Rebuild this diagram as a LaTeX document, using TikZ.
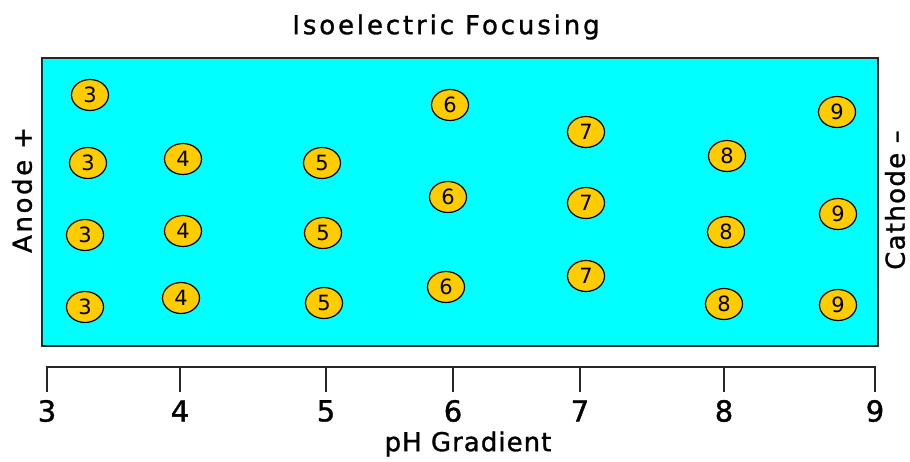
\documentclass[tikz,border=0pt]{standalone}
\usepackage{fontspec}
\setmainfont{DejaVu Sans}
\newfontfamily\labelfont[FakeBold=1.2]{DejaVu Sans}
\usepackage{xcolor}
\usepackage{tikz}
\usetikzlibrary{shapes.geometric, positioning}
\definecolor{gelcyan}{RGB}{0,255,255}
\definecolor{beadgold}{RGB}{255,204,0}
\tikzstyle{gelbox} = [
    rectangle, draw=black!85, line width=1.6pt, fill=gelcyan,
    minimum width=836pt, minimum height=288pt, inner sep=0pt]
\tikzstyle{bead} = [
    ellipse, draw=black, line width=1.2pt, fill=beadgold,
    minimum width=37pt, minimum height=31pt, inner sep=0pt,
    font=\fontsize{21}{21}\selectfont]
\tikzstyle{label} = [font=\labelfont\fontsize{26}{26}\selectfont, inner sep=0pt]
\tikzstyle{ticklabel} = [font=\labelfont\fontsize{29}{29}\selectfont, inner sep=0pt]
\tikzstyle{tick} = [line width=1.6pt, black!85]

\begin{document}
\begin{tikzpicture}[x=1pt, y=-1pt]
  \useasboundingbox (0,0) rectangle (910,462);

  \node (title) [label] at (446,27) {\addfontfeatures{LetterSpace=11}Isoelectric Focusing};
  \node (gel) [gelbox] at (460,202) {};
  \node (anode) [label, rotate=90] at (22,190) {\addfontfeatures{LetterSpace=10}Anode +};
  \node (cathode) [label, rotate=90] at (895,200) {\addfontfeatures{LetterSpace=5}Cathode –};

  % pI 3
  \node (b3a) [bead] at (90,95) {3};
  \node (b3b) [bead] at (88,163) {3};
  \node (b3c) [bead] at (85,235) {3};
  \node (b3d) [bead] at (85,307) {3};
  % pI 4
  \node (b4a) [bead] at (183,159) {4};
  \node (b4b) [bead] at (183,231) {4};
  \node (b4c) [bead] at (181,298) {4};
  % pI 5
  \node (b5a) [bead] at (322,163) {5};
  \node (b5b) [bead] at (323,233) {5};
  \node (b5c) [bead] at (324,303) {5};
  % pI 6
  \node (b6a) [bead] at (450,105) {6};
  \node (b6b) [bead] at (448,197) {6};
  \node (b6c) [bead] at (446,287) {6};
  % pI 7
  \node (b7a) [bead] at (586,132) {7};
  \node (b7b) [bead] at (586,203) {7};
  \node (b7c) [bead] at (586,276) {7};
  % pI 8
  \node (b8a) [bead] at (727,156) {8};
  \node (b8b) [bead] at (726,232) {8};
  \node (b8c) [bead] at (724,304) {8};
  % pI 9
  \node (b9a) [bead] at (837,112) {9};
  \node (b9b) [bead] at (838,214) {9};
  \node (b9c) [bead] at (838,305) {9};

  % pH axis
  \coordinate (axl) at (46,367);
  \coordinate (axr) at (876,367);
  \draw [tick] (axl) -- (axr);
  \node (t3) [ticklabel] at (47,411) {3};
  \node (t4) [ticklabel] at (180,411) {4};
  \node (t5) [ticklabel] at (326,411) {5};
  \node (t6) [ticklabel] at (453,411) {6};
  \node (t7) [ticklabel] at (580,411) {7};
  \node (t8) [ticklabel] at (724,411) {8};
  \node (t9) [ticklabel] at (875,411) {9};
  \draw [tick] (t3 |- axl) -- ++(0,25);
  \draw [tick] (t4 |- axl) -- ++(0,25);
  \draw [tick] (t5 |- axl) -- ++(0,25);
  \draw [tick] (t6 |- axl) -- ++(0,25);
  \draw [tick] (t7 |- axl) -- ++(0,25);
  \draw [tick] (t8 |- axl) -- ++(0,25);
  \draw [tick] (t9 |- axl) -- ++(0,25);
  \node (phlabel) [label] at (468,444) {\addfontfeatures{LetterSpace=4}pH Gradient};

\end{tikzpicture}
\end{document}
